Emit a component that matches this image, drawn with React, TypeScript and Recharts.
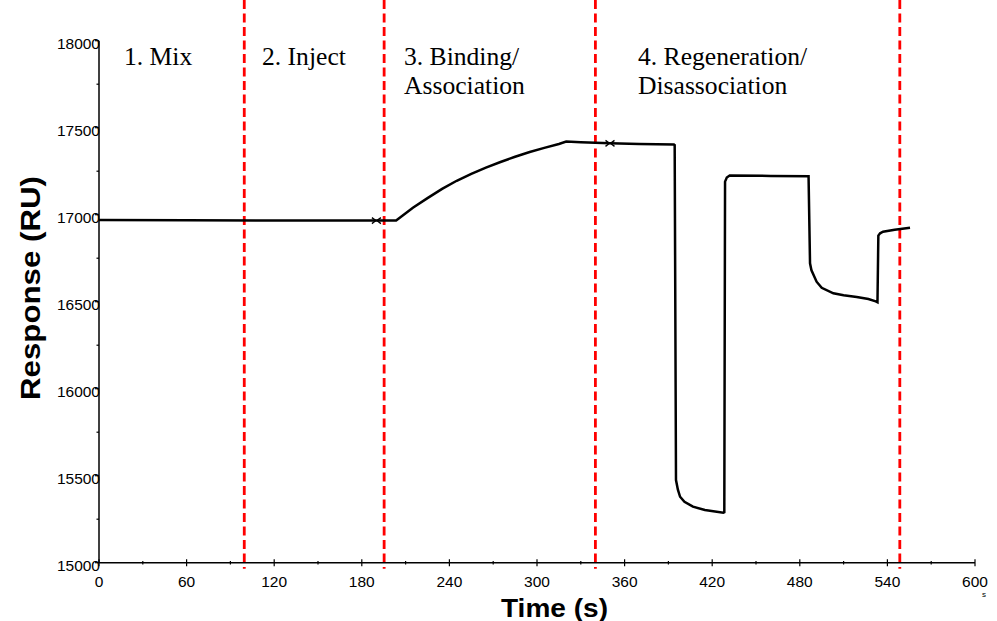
import React from "react";
import {
  ComposedChart,
  Line,
  XAxis,
  YAxis,
  ReferenceLine,
} from "recharts";

// sensorgram (time in s, response in RU)
const times = [
  0, 60, 120, 190, 203.5, 206, 215, 225, 235, 245, 255, 265, 275, 285, 295,
  305, 315, 320, 330, 350, 370, 393.8, 394.3, 395.2, 396.5, 398, 401, 406.8,
  415, 427.6, 428.3, 428.8, 430, 432, 460, 486, 487, 488, 491.5, 495, 503,
  510, 519, 527, 532, 533.2, 533.8, 535, 537, 545, 555.5,
];
const responses = [
  16970, 16968, 16967, 16966, 16966, 16982, 17040, 17095, 17148, 17195, 17235,
  17271, 17303, 17333, 17360, 17384, 17406, 17420, 17417, 17410, 17406, 17403,
  17400, 15475, 15420, 15379, 15350, 15322, 15303, 15287, 15290, 17190, 17214,
  17225, 17223, 17221, 16721, 16680, 16615, 16580, 16548, 16537, 16527, 16515,
  16502, 16497, 16880, 16893, 16902, 16913, 16925,
];
const markerTimes = [190, 350];

const phaseBoundaries = [99.5, 195.3, 340, 548.5];
const phaseLabels = [
  ["1. Mix"],
  ["2. Inject"],
  ["3. Binding/", "Association"],
  ["4. Regeneration/", "Disassociation"],
];

const xTicks = [
  0, 30, 60, 90, 120, 150, 180, 210, 240, 270, 300, 330, 360, 390, 420, 450,
  480, 510, 540, 570, 600,
];
const yTicks = [
  15000, 15250, 15500, 15750, 16000, 16250, 16500, 16750, 17000, 17250, 17500,
  17750, 18000,
];

const data = times.map((t, i) => ({ time: t, response: responses[i] }));

const SANS = "'Liberation Sans', Arial, Helvetica, sans-serif";
const SERIF = "'Liberation Serif', 'Times New Roman', serif";

const XTick = (props: any) => {
  const { x, y, payload } = props;
  const major = payload.value % 60 === 0;
  const h = major ? 3.5 : 1.8;
  return (
    <g>
      <line x1={x} x2={x} y1={y - h} y2={y + h} stroke="#000" strokeWidth={1.2} />
      {major && (
        <text x={x} y={y + 24} textAnchor="middle" fontFamily={SANS} fontSize={15.5} fill="#000">
          {payload.value}
        </text>
      )}
    </g>
  );
};

const YTick = (props: any) => {
  const { x, y, payload } = props;
  const major = payload.value % 500 === 0;
  return (
    <g>
      <line x1={x - (major ? 4 : 2.5)} x2={x} y1={y} y2={y} stroke="#000" strokeWidth={1.2} />
      {major && (
        <text x={x + 1} y={y + 8.5} textAnchor="end" fontFamily={SANS} fontSize={15.5} fill="#000">
          {payload.value}
        </text>
      )}
    </g>
  );
};

const PhaseLine = (props: any) => {
  const { x1, y1, y2 } = props;
  const bottom = Math.max(y1, y2);
  return (
    <line
      x1={x1}
      x2={x1}
      y1={0}
      y2={bottom + 6}
      stroke="#FF0000"
      strokeWidth={2.8}
      strokeDasharray="9 4.5"
    />
  );
};

const Marker = (props: any) => {
  const { cx, cy, payload } = props;
  if (!markerTimes.includes(payload.time)) return <g key={`d-${payload.time}`} />;
  return (
    <path
      key={`m-${payload.time}`}
      d={`M${cx - 4.5},${cy - 3} L${cx - 0.5},${cy} L${cx - 4.5},${cy + 3} M${cx + 4.5},${cy - 3} L${cx + 0.5},${cy} L${cx + 4.5},${cy + 3}`}
      fill="none"
      stroke="#000"
      strokeWidth={1.3}
    />
  );
};

const labelX = [124, 262, 404, 638];

export default function App() {
  return (
    <div style={{ position: "absolute", left: 0, top: 0, width: 997, height: 621, background: "#fff" }}>
      <ComposedChart
        width={997}
        height={621}
        data={data}
        margin={{ top: 40.7, right: 22, bottom: 57.3, left: 98 }}
      >
        <XAxis
          dataKey="time"
          type="number"
          domain={[0, 600]}
          ticks={xTicks}
          interval={0}
          height={1}
          tickSize={0}
          tickMargin={0}
          tickLine={false}
          tick={<XTick />}
          axisLine={{ stroke: "#000", strokeWidth: 1.5 }}
        />
        <YAxis
          type="number"
          domain={[15000, 18000]}
          ticks={yTicks}
          interval={0}
          width={1}
          tickSize={0}
          tickMargin={0}
          tickLine={false}
          tick={<YTick />}
          axisLine={{ stroke: "#000", strokeWidth: 1.5 }}
        />
        {phaseBoundaries.map((b) => (
          <ReferenceLine key={b} x={b} shape={<PhaseLine />} />
        ))}
        <Line
          type="linear"
          dataKey="response"
          stroke="#000"
          strokeWidth={2.5}
          dot={Marker}
          activeDot={false}
          isAnimationActive={false}
        />
      </ComposedChart>
      <svg
        width={997}
        height={621}
        style={{ position: "absolute", left: 0, top: 0, pointerEvents: "none" }}
      >
        {phaseLabels.map((lines, i) =>
          lines.map((l, j) => (
            <text
              key={`${i}-${j}`}
              x={labelX[i]}
              y={65 + j * 29}
              fontFamily={SERIF}
              fontSize={25.6}
              fill="#000"
            >
              {l}
            </text>
          ))
        )}
        <text
          x={40}
          y={288}
          transform="rotate(-90, 40, 288)"
          textAnchor="middle"
          fontFamily={SANS}
          fontWeight="bold"
          fontSize={27}
          textLength={224}
          lengthAdjust="spacingAndGlyphs"
          fill="#000"
        >
          Response (RU)
        </text>
        <text
          x={554.5}
          y={616.5}
          textAnchor="middle"
          fontFamily={SANS}
          fontWeight="bold"
          fontSize={26}
          textLength={107}
          lengthAdjust="spacingAndGlyphs"
          fill="#000"
        >
          Time (s)
        </text>
        <text x={984} y={597} textAnchor="middle" fontFamily={SANS} fontSize={8} fill="#000">
          s
        </text>
      </svg>
    </div>
  );
}
